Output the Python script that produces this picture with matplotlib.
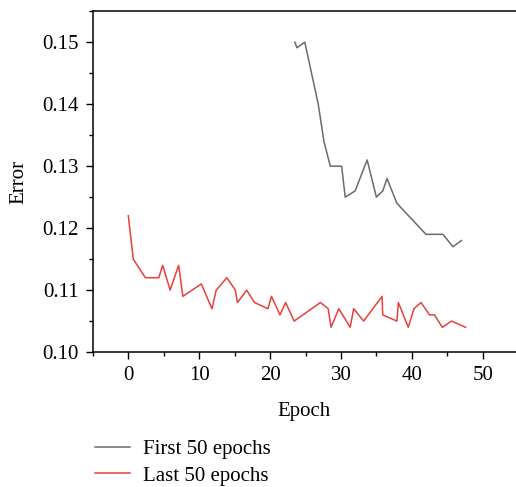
import matplotlib
matplotlib.use("Agg")
import matplotlib.pyplot as plt
from matplotlib.ticker import MultipleLocator, FormatStrFormatter

first_x = [23.5, 23.8, 24.9, 26.8, 27.6, 28.5, 30.1, 30.6, 32.0, 33.7, 35.0, 35.9,
           36.5, 37.9, 42.0, 44.4, 45.8, 47.0]
first_y = [0.150, 0.1491, 0.150, 0.140, 0.134, 0.130, 0.130, 0.125, 0.126, 0.131,
           0.125, 0.126, 0.128, 0.124, 0.119, 0.119, 0.117, 0.118]

last_x = [0.0, 0.7, 2.4, 4.3, 4.85, 5.9, 7.1, 7.7, 10.3, 11.8, 12.4, 13.9, 15.1,
          15.4, 16.7, 17.8, 19.7, 20.2, 21.4, 22.2, 23.4, 27.1, 28.2, 28.6, 29.7,
          31.3, 31.8, 33.2, 35.8, 35.9, 37.9, 38.1, 39.5, 40.3, 41.3, 42.5, 43.2,
          44.3, 45.6, 47.6]
last_y = [0.122, 0.115, 0.112, 0.112, 0.114, 0.110, 0.114, 0.109, 0.111, 0.107,
          0.110, 0.112, 0.110, 0.108, 0.110, 0.108, 0.107, 0.109, 0.106, 0.108,
          0.105, 0.108, 0.107, 0.104, 0.107, 0.104, 0.107, 0.105, 0.109, 0.106,
          0.105, 0.108, 0.104, 0.107, 0.108, 0.106, 0.106, 0.104, 0.105, 0.104]

plt.rcParams['font.family'] = ['Liberation Serif', 'DejaVu Serif']
plt.rcParams['font.size'] = 15

fig = plt.figure(figsize=(5.16, 4.87), dpi=100)
ax = fig.add_axes([0.180, 0.277, 0.820, 0.700])

l1, = ax.plot(first_x, first_y, color='#6b6b6b', lw=1.1, label='First 50 epochs')
l2, = ax.plot(last_x, last_y, color='#e8403c', lw=1.1, label='Last 50 epochs')

ax.set_xlim(-5, 54.7)
ax.set_ylim(0.10, 0.155)
ax.xaxis.set_major_locator(MultipleLocator(10))
ax.xaxis.set_minor_locator(MultipleLocator(5))
ax.yaxis.set_major_locator(MultipleLocator(0.01))
ax.yaxis.set_minor_locator(MultipleLocator(0.005))
ax.yaxis.set_major_formatter(FormatStrFormatter('%.2f'))
ax.tick_params(which='major', direction='out', length=5, width=1, labelsize=15, pad=5)
ax.tick_params(which='minor', direction='out', length=3, width=1)
ax.tick_params(top=False, right=False)
ax.spines['right'].set_visible(False)
for s in ax.spines.values():
    s.set_linewidth(1.1)
ax.set_xlabel('Epoch', fontsize=15, labelpad=12)
ax.set_ylabel('Error', fontsize=15, labelpad=10)

fig.legend(handles=[l1, l2], loc='upper left', bbox_to_anchor=(0.168, 0.115),
           frameon=False, fontsize=15, handlelength=1.7, handletextpad=0.6,
           labelspacing=0.35, borderaxespad=0)

fig.savefig('out.png', dpi=100)
